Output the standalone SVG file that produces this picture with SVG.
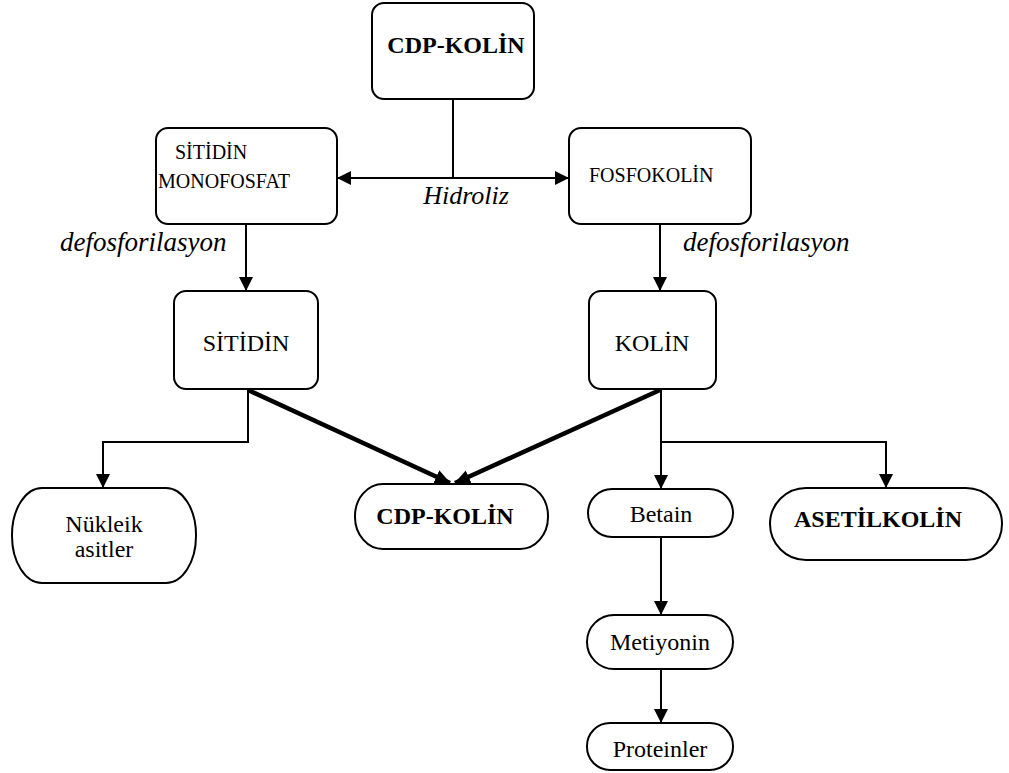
<svg xmlns="http://www.w3.org/2000/svg" width="1009" height="773" viewBox="0 0 1009 773">
<style>
.box{fill:#fff;stroke:#000;stroke-width:2}
text{font-family:'Liberation Serif','DejaVu Serif',serif;fill:#000}
.s20{font-size:20px}
.s24{font-size:24px}
.b{font-weight:bold;font-size:24px}
.i{font-style:italic;font-size:26px}
.i27{font-style:italic;font-size:27px}
.ln{fill:none;stroke:#000;stroke-width:2}
.thick{fill:none;stroke:#000;stroke-width:4.5}
</style>
<defs>
<marker id="ah" markerUnits="userSpaceOnUse" markerWidth="14" markerHeight="14" refX="13" refY="7" orient="auto-start-reverse" viewBox="0 0 14 14">
<path d="M0,0 L14,7 L0,14 z" fill="#000"/>
</marker>
<marker id="ahT" markerUnits="userSpaceOnUse" markerWidth="16" markerHeight="16" refX="15" refY="8" orient="auto" viewBox="0 0 16 16">
<path d="M0,1 L16,8 L0,15 z" fill="#000"/>
</marker>
</defs>
<rect width="1009" height="773" fill="#fff"/>
<g id="connectors">
<line class="ln" x1="453" y1="99" x2="453" y2="178"/>
<line class="ln" x1="338" y1="178" x2="568" y2="178" marker-start="url(#ah)" marker-end="url(#ah)"/>
<line class="ln" x1="246" y1="224" x2="246" y2="290" marker-end="url(#ah)"/>
<line class="ln" x1="660" y1="224" x2="660" y2="290" marker-end="url(#ah)"/>
<polyline class="ln" points="248,390 248,442 103,442 103,487" marker-end="url(#ah)"/>
<line class="ln" x1="661" y1="390" x2="661" y2="488" marker-end="url(#ah)"/>
<polyline class="ln" points="661,442 886,442 886,487" marker-end="url(#ah)"/>
<line class="ln" x1="661" y1="537" x2="661" y2="614" marker-end="url(#ah)"/>
<line class="ln" x1="661" y1="669" x2="661" y2="722" marker-end="url(#ah)"/>
<line class="thick" x1="248" y1="390" x2="450" y2="483" marker-end="url(#ahT)"/>
<line class="thick" x1="660" y1="390" x2="455" y2="483" marker-end="url(#ahT)"/>
<text class="i" x="466" y="204" text-anchor="middle">Hidroliz</text>
<text class="i27" x="60" y="251">defosforilasyon</text>
<text class="i27" x="683" y="251">defosforilasyon</text>
</g>
<g id="cdp-kolin-top">
<rect class="box" x="372" y="3" width="162" height="96" rx="12"/>
<text class="b" x="456" y="53" text-anchor="middle">CDP-KOLİN</text>
</g>
<g id="sitidin-monofosfat">
<rect class="box" x="156" y="128" width="181" height="96" rx="12"/>
<text class="s20" x="175" y="159">SİTİDİN</text>
<text class="s20" x="158" y="188">MONOFOSFAT</text>
</g>
<g id="fosfokolin">
<rect class="box" x="569" y="128" width="182" height="96" rx="12"/>
<text class="s20" x="589" y="182">FOSFOKOLİN</text>
</g>
<g id="sitidin">
<rect class="box" x="174" y="291" width="144" height="98" rx="12"/>
<text class="s24" x="246" y="351" text-anchor="middle">SİTİDİN</text>
</g>
<g id="kolin">
<rect class="box" x="589" y="291" width="127" height="98" rx="12"/>
<text class="s24" x="652" y="351" text-anchor="middle">KOLİN</text>
</g>
<g id="nukleik-asitler">
<rect class="box" x="12" y="488" width="184" height="95" rx="30" ry="47"/>
<text class="s24" x="104" y="532" text-anchor="middle">Nükleik</text>
<text class="s24" x="104" y="557" text-anchor="middle">asitler</text>
</g>
<g id="cdp-kolin-bottom">
<rect class="box" x="355" y="484" width="193" height="65" rx="28" ry="32"/>
<text class="b" x="445" y="524" text-anchor="middle">CDP-KOLİN</text>
</g>
<g id="betain">
<rect class="box" x="588" y="489" width="145" height="48" rx="24"/>
<text class="s24" x="661" y="522" text-anchor="middle">Betain</text>
</g>
<g id="asetilkolin">
<rect class="box" x="770" y="488" width="232" height="72" rx="36"/>
<text class="b" x="878" y="527" text-anchor="middle">ASETİLKOLİN</text>
</g>
<g id="metiyonin">
<rect class="box" x="587" y="615" width="146" height="54" rx="27"/>
<text class="s24" x="660" y="650" text-anchor="middle">Metiyonin</text>
</g>
<g id="proteinler">
<rect class="box" x="587" y="723" width="146" height="47" rx="23"/>
<text class="s24" x="660" y="757" text-anchor="middle">Proteinler</text>
</g>
</svg>
